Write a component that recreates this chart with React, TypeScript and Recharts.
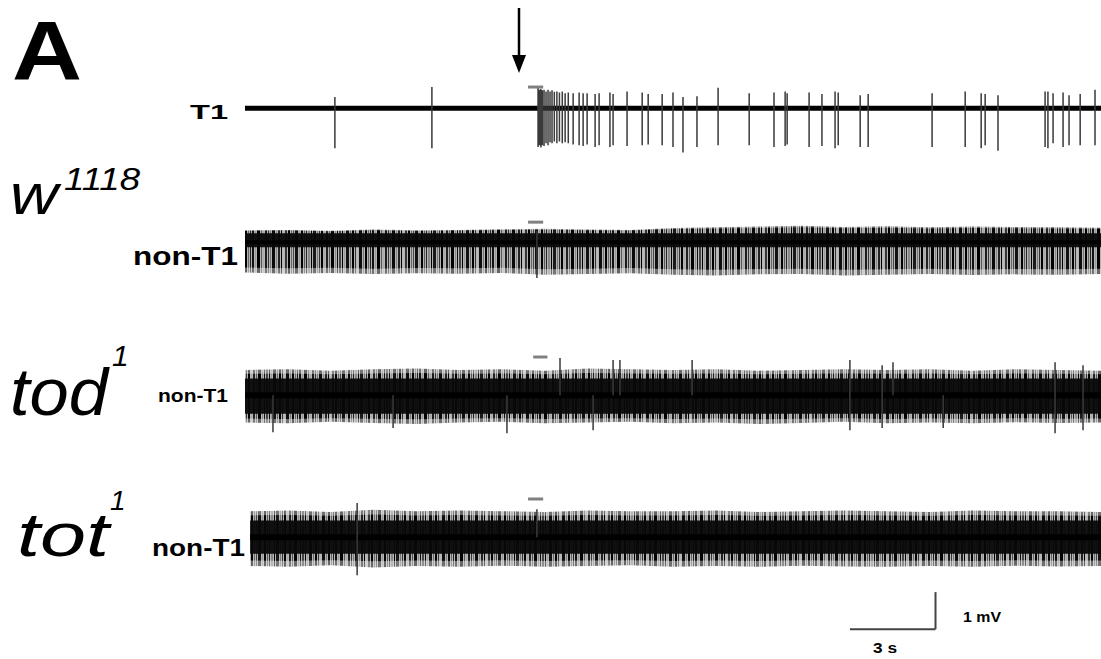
import { Area, ComposedChart, Line, ReferenceLine, XAxis, YAxis } from "recharts";

// time axis in seconds, voltage in mV
const timeDomain = [0, 30];
const mvDomain = [-1.4, 1.3];

// T1 recording: [time (s), peak (mV), trough (mV)]
const t1Spikes = [
  [3.15, 0.3, -1.08],
  [6.55, 0.57, -1.08],
  [10.27, 0.55, -1.05],
  [10.32, 0.5, -1.0],
  [10.37, 0.52, -1.06],
  [10.42, 0.48, -1.0],
  [10.48, 0.5, -1.02],
  [10.55, 0.45, -0.95],
  [10.62, 0.5, -1.0],
  [10.69, 0.45, -0.92],
  [10.76, 0.48, -0.95],
  [10.84, 0.44, -0.9],
  [10.93, 0.45, -0.95],
  [11.02, 0.42, -0.9],
  [11.12, 0.45, -0.95],
  [11.22, 0.4, -0.92],
  [11.33, 0.42, -0.95],
  [11.5, 0.4, -0.98],
  [11.71, 0.42, -1.0],
  [11.85, 0.4, -1.02],
  [11.99, 0.4, -0.98],
  [12.27, 0.38, -1.05],
  [12.41, 0.4, -1.0],
  [12.79, 0.42, -1.05],
  [12.9, 0.38, -1.0],
  [13.39, 0.45, -1.02],
  [13.92, 0.42, -1.0],
  [14.13, 0.38, -0.98],
  [14.62, 0.38, -1.0],
  [15.0, 0.42, -1.05],
  [15.35, 0.3, -1.2],
  [15.84, 0.32, -1.05],
  [16.58, 0.55, -1.0],
  [17.67, 0.4, -1.0],
  [18.54, 0.42, -1.05],
  [18.93, 0.45, -1.02],
  [19.0, 0.4, -0.98],
  [19.77, 0.42, -1.05],
  [20.22, 0.38, -1.02],
  [20.68, 0.45, -1.08],
  [20.79, 0.42, -1.0],
  [21.56, 0.35, -1.05],
  [21.84, 0.38, -1.05],
  [24.08, 0.4, -1.05],
  [25.24, 0.45, -1.05],
  [25.8, 0.4, -1.08],
  [25.94, 0.38, -1.0],
  [26.39, 0.35, -1.15],
  [28.04, 0.45, -1.05],
  [28.14, 0.45, -1.08],
  [28.32, 0.4, -0.95],
  [28.67, 0.42, -1.05],
  [28.88, 0.35, -1.0],
  [29.27, 0.38, -1.0],
  [29.79, 0.5, -1.0]
];

// envelope of the dense non-T1 recordings, sampled every 1.5 s
const envTimes = [0, 1.5, 3, 4.5, 6, 7.5, 9, 10.5, 12, 13.5, 15, 16.5, 18, 19.5, 21, 22.5, 24, 25.5, 27, 28.5, 30];

const w1118Top = [0.32, 0.33, 0.31, 0.34, 0.32, 0.33, 0.35, 0.36, 0.34, 0.33, 0.38, 0.4, 0.42, 0.44, 0.41, 0.43, 0.4, 0.42, 0.41, 0.4, 0.39];
const w1118Bottom = [-0.82, -0.85, -0.83, -0.86, -0.84, -0.85, -0.83, -0.88, -0.86, -0.84, -0.88, -0.9, -0.87, -0.86, -0.9, -0.88, -0.86, -0.89, -0.87, -0.88, -0.86];
const w1118Core = [-0.14, 0.24];

const tod1Top = [0.68, 0.7, 0.66, 0.7, 0.72, 0.68, 0.7, 0.66, 0.72, 0.7, 0.68, 0.7, 0.66, 0.68, 0.7, 0.68, 0.7, 0.66, 0.7, 0.68, 0.66];
const tod1Bottom = [-0.74, -0.76, -0.72, -0.75, -0.78, -0.74, -0.72, -0.76, -0.74, -0.72, -0.76, -0.74, -0.78, -0.75, -0.72, -0.76, -0.74, -0.76, -0.73, -0.75, -0.74];
const tod1Core = [-0.5, 0.45];

const tot1Top = [0.7, 0.72, 0.68, 0.74, 0.7, 0.72, 0.7, 0.68, 0.72, 0.7, 0.7, 0.72, 0.68, 0.7, 0.72, 0.7, 0.68, 0.72, 0.7, 0.7, 0.68];
const tot1Bottom = [-0.78, -0.8, -0.76, -0.82, -0.78, -0.8, -0.77, -0.8, -0.78, -0.76, -0.8, -0.78, -0.8, -0.77, -0.79, -0.8, -0.78, -0.8, -0.77, -0.79, -0.78];
const tot1Core = [-0.45, 0.45];

// larger events standing out of the dense traces: [time, peak, trough]
const w1118Spikes = [[10.23, 0.3, -0.97]];
const tod1Spikes = [
  [0.98, 0, -1.0],
  [5.19, 0, -0.89],
  [9.18, 0, -1.03],
  [11.04, 1.0, 0],
  [12.2, 0, -0.95],
  [12.9, 0.95, 0],
  [13.14, 0.95, 0],
  [15.67, 0.95, 0],
  [21.2, 0.95, -0.95],
  [22.33, 0.81, -0.89],
  [22.71, 0.89, 0],
  [24.47, 0, -0.89],
  [28.39, 0.89, -1.03],
  [29.37, 0.81, -0.95]
];
const tot1Spikes = [
  [3.93, 0.92, -1.03],
  [10.23, 0.75, 0]
];

// stimulus bar: [start, end, level]
const t1Stim = [9.92, 10.45, 0.57];
const w1118Stim = [9.92, 10.45, 0.54];
const tod1Stim = [10.1, 10.6, 1.03];
const tot1Stim = [9.92, 10.45, 1.03];

// scale bar: 3 s, 1 mV
const scaleStart = 21.2;
const scaleSeconds = 3;
const scaleMv = 1;

const W = 856;
const H = 100;
const LEFT = 245;
const font = "'Liberation Sans', Arial, sans-serif";

function spikeData(spikes: number[][]) {
  const out: { t: number; v: number | null }[] = [];
  spikes.forEach(([t, up, down]) => {
    out.push({ t, v: up });
    out.push({ t, v: down });
    out.push({ t, v: null });
  });
  return out;
}

// outer envelope, a denser middle band and the solid core
function envData(top: number[], bottom: number[], core: number[], start: number, mid: number) {
  return envTimes.map((t, i) => ({
    t: Math.max(t, start),
    env: [bottom[i], top[i]],
    mid: [core[0] + mid * (bottom[i] - core[0]), core[1] + mid * (top[i] - core[1])],
    core: core
  }));
}

// texture of the dense recordings: [x, width, shade]
const stripeCols = [
  [0, 2, "#000"], [3, 1, "#666"], [5, 1, "#222"], [7, 2, "#111"], [10, 1, "#999"],
  [12, 3, "#000"], [16, 1, "#555"], [18, 1, "#aaa"], [20, 2, "#1a1a1a"], [23, 1, "#333"],
  [25, 1, "#777"], [27, 3, "#0a0a0a"], [31, 1, "#888"], [33, 2, "#222"], [36, 1, "#000"],
  [38, 1, "#bbb"], [40, 2, "#333"], [43, 2, "#000"], [46, 1, "#666"], [48, 1, "#444"],
  [50, 3, "#111"], [54, 1, "#999"], [56, 2, "#000"], [59, 1, "#555"], [61, 1, "#222"],
  [63, 2, "#888"], [66, 1, "#000"], [68, 3, "#1a1a1a"], [72, 1, "#777"], [74, 1, "#333"],
  [76, 2, "#000"], [79, 1, "#aaa"], [81, 2, "#222"], [84, 1, "#555"], [86, 3, "#000"],
  [90, 1, "#888"], [92, 1, "#111"], [94, 2, "#444"], [97, 1, "#000"], [99, 1, "#999"],
  [101, 3, "#111"], [105, 1, "#666"], [107, 2, "#000"], [110, 1, "#333"], [112, 1, "#bbb"],
  [114, 3, "#0d0d0d"], [118, 1, "#777"]
];

function Stripes({ id, shift }: { id: string; shift: number }) {
  return (
    <defs>
      <pattern id={id} width={120} height={10} patternUnits="userSpaceOnUse" patternTransform={`translate(${shift},0)`}>
        <rect x={0} y={0} width={120} height={10} fill="#b4b4b4" />
        {stripeCols.map(([x, w, c], i) => (
          <rect key={i} x={x as number} y={0} width={w as number} height={10} fill={c as string} />
        ))}
      </pattern>
    </defs>
  );
}

type EnvRow = { t: number; env: number[]; mid: number[]; core: number[] };

type TraceProps = {
  top: number;
  spikes: number[][];
  stim: number[];
  env?: EnvRow[];
  patternId?: string;
  shift?: number;
  baseWidth: number;
};

function Trace({ top, spikes, stim, env, patternId, shift = 0, baseWidth }: TraceProps) {
  return (
    <div style={{ position: "absolute", left: LEFT, top }}>
      <ComposedChart width={W} height={H} margin={{ top: 0, right: 0, bottom: 0, left: 0 }}>
        {patternId && <Stripes id={patternId} shift={shift} />}
        <XAxis type="number" dataKey="t" domain={timeDomain} hide allowDataOverflow />
        <YAxis type="number" domain={mvDomain} hide allowDataOverflow />
        {env && (
          <Area data={env} dataKey="env" type="linear" stroke="none" fill={`url(#${patternId})`} fillOpacity={0.6} isAnimationActive={false} />
        )}
        {env && (
          <Area data={env} dataKey="mid" type="linear" stroke="none" fill={`url(#${patternId})`} fillOpacity={1} isAnimationActive={false} />
        )}
        {env && (
          <Area data={env} dataKey="core" type="linear" stroke="none" fill="#080808" fillOpacity={0.95} isAnimationActive={false} />
        )}
        <ReferenceLine
          segment={[
            { x: env ? env[0].t : 0, y: 0 },
            { x: 30, y: 0 }
          ]}
          stroke="#000"
          strokeWidth={baseWidth}
        />
        <Line
          data={spikeData(spikes)}
          dataKey="v"
          type="linear"
          stroke="#3a3a3a"
          strokeWidth={1.5}
          dot={false}
          connectNulls={false}
          isAnimationActive={false}
        />
        <ReferenceLine
          segment={[
            { x: stim[0], y: stim[2] },
            { x: stim[1], y: stim[2] }
          ]}
          stroke="#808080"
          strokeWidth={3}
        />
      </ComposedChart>
    </div>
  );
}

export default function App() {
  const scaleEnd = scaleStart + scaleSeconds;
  return (
    <div style={{ position: "absolute", left: 0, top: 0, width: 1101, height: 659, background: "#fff", overflow: "hidden" }}>
      <Trace top={60} spikes={t1Spikes} stim={t1Stim} baseWidth={5} />
      <Trace
        top={194}
        spikes={w1118Spikes}
        stim={w1118Stim}
        env={envData(w1118Top, w1118Bottom, w1118Core, 0, 0.8)}
        patternId="stripesW"
        shift={0}
        baseWidth={4}
      />
      <Trace
        top={347}
        spikes={tod1Spikes}
        stim={tod1Stim}
        env={envData(tod1Top, tod1Bottom, tod1Core, 0, 0.55)}
        patternId="stripesD"
        shift={47}
        baseWidth={6}
      />
      <Trace
        top={489}
        spikes={tot1Spikes}
        stim={tot1Stim}
        env={envData(tot1Top, tot1Bottom, tot1Core, 0.18, 0.55)}
        patternId="stripesT"
        shift={83}
        baseWidth={6}
      />
      <div style={{ position: "absolute", left: LEFT, top: 581 }}>
        <ComposedChart width={W} height={H} margin={{ top: 0, right: 0, bottom: 0, left: 0 }} data={[{ t: 0 }, { t: 30 }]}>
          <XAxis type="number" dataKey="t" domain={timeDomain} hide allowDataOverflow />
          <YAxis type="number" domain={mvDomain} hide allowDataOverflow />
          <ReferenceLine
            segment={[
              { x: scaleStart, y: 0 },
              { x: scaleEnd, y: 0 }
            ]}
            stroke="#444"
            strokeWidth={2}
          />
          <ReferenceLine
            segment={[
              { x: scaleEnd, y: 0 },
              { x: scaleEnd, y: scaleMv }
            ]}
            stroke="#444"
            strokeWidth={2}
          />
        </ComposedChart>
      </div>
      <svg width={1101} height={659} style={{ position: "absolute", left: 0, top: 0, pointerEvents: "none" }}>
        <g fontFamily={font} fill="#000">
          <text x={12} y={80} fontSize={84} fontWeight="bold" textLength={70} lengthAdjust="spacingAndGlyphs">A</text>
          <text x={190} y={119} fontSize={20} fontWeight="bold" textLength={38} lengthAdjust="spacingAndGlyphs">T1</text>
          <text x={10} y={214} fontSize={58} fontStyle="italic" textLength={48} lengthAdjust="spacingAndGlyphs">w</text>
          <text x={64} y={190} fontSize={32} fontStyle="italic" textLength={76} lengthAdjust="spacingAndGlyphs">1118</text>
          <text x={133} y={265} fontSize={25} fontWeight="bold" textLength={105} lengthAdjust="spacingAndGlyphs">non-T1</text>
          <text x={10} y={415} fontSize={66} fontStyle="italic" textLength={98} lengthAdjust="spacingAndGlyphs">tod</text>
          <text x={112} y={366} fontSize={30} fontStyle="italic">1</text>
          <text x={158} y={402} fontSize={19} fontWeight="bold" textLength={70} lengthAdjust="spacingAndGlyphs">non-T1</text>
          <text x={17} y={556} fontSize={62} fontStyle="italic" textLength={92} lengthAdjust="spacingAndGlyphs">tot</text>
          <text x={110} y={510} fontSize={28} fontStyle="italic">1</text>
          <text x={152} y={556} fontSize={23} fontWeight="bold" textLength={93} lengthAdjust="spacingAndGlyphs">non-T1</text>
          <text x={963} y={622} fontSize={14} fontWeight="bold" textLength={38} lengthAdjust="spacingAndGlyphs">1 mV</text>
          <text x={873} y={653} fontSize={14} fontWeight="bold" textLength={24} lengthAdjust="spacingAndGlyphs">3 s</text>
        </g>
        <line x1={519} y1={8} x2={519} y2={58} stroke="#000" strokeWidth={2.5} />
        <polygon points="512,55 526,55 519,73" fill="#000" />
      </svg>
    </div>
  );
}
